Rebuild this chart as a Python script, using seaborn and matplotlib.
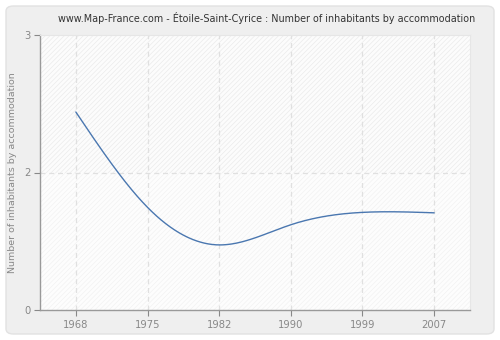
import numpy as np
import pandas as pd
import matplotlib
matplotlib.use("Agg")
import matplotlib.pyplot as plt
from matplotlib.patches import FancyBboxPatch, Rectangle
import seaborn as sns

years = ["1968", "1975", "1982", "1990", "1999", "2007"]
values = [2.16, 1.12, 0.71, 0.93, 1.065, 1.06]
ytick_pos = [0, 1.5, 3]
ytick_labels = ["0", "2", "3"]
title = "www.Map-France.com - Étoile-Saint-Cyrice : Number of inhabitants by accommodation"
ylabel = "Number of inhabitants by accommodation"

sns.set_theme(style="white")
plt.rcParams["font.family"] = ["DejaVu Sans"]
plt.rcParams["hatch.linewidth"] = 0.5


def natural_spline(x, y, n=400):
    x = np.asarray(x, float)
    y = np.asarray(y, float)
    k = len(x)
    h = np.diff(x)
    A = np.zeros((k, k))
    b = np.zeros(k)
    A[0, 0] = A[-1, -1] = 1
    for i in range(1, k - 1):
        A[i, i - 1] = h[i - 1]
        A[i, i] = 2 * (h[i - 1] + h[i])
        A[i, i + 1] = h[i]
        b[i] = 3 * ((y[i + 1] - y[i]) / h[i] - (y[i] - y[i - 1]) / h[i - 1])
    c = np.linalg.solve(A, b)
    xs = np.linspace(x[0], x[-1], n)
    ys = np.empty_like(xs)
    for j, xv in enumerate(xs):
        i = min(np.searchsorted(x, xv, side="right") - 1, k - 2)
        bi = (y[i + 1] - y[i]) / h[i] - h[i] * (2 * c[i] + c[i + 1]) / 3
        di = (c[i + 1] - c[i]) / (3 * h[i])
        t = xv - x[i]
        ys[j] = y[i] + bi * t + c[i] * t ** 2 + di * t ** 3
    return xs, ys


pos = np.arange(len(years))
xs, ys = natural_spline(pos, values)
curve = pd.DataFrame({"x": xs, "y": ys})

fig = plt.figure(figsize=(5, 3.4), dpi=100)
fig.patch.set_facecolor("white")
bg = FancyBboxPatch((6 / 500, 6 / 340), 488 / 500, 328 / 340,
                    boxstyle="round,pad=0,rounding_size=0.015",
                    transform=fig.transFigure, facecolor="#efefef",
                    edgecolor="#e2e2e2", linewidth=1, zorder=-5)
fig.add_artist(bg)

ax = fig.add_axes([40 / 500, 30 / 340, 430 / 500, 275 / 340])
ax.set_zorder(1)
ax.set_facecolor("#fbfbfb")
ax.set_xlim(-0.5, len(years) - 0.5)
ax.set_ylim(0, 3)

ax.add_patch(Rectangle((-0.5, 0), len(years), 1.5, facecolor="#fdfdfd",
                       edgecolor="#f2f2f2", hatch="/" * 7, linewidth=0, zorder=0))
ax.add_patch(Rectangle((-0.5, 1.5), len(years), 1.5, facecolor="#fcfcfc",
                       edgecolor="#ebebeb", hatch="/" * 7, linewidth=0, zorder=0))

for p in pos:
    ax.axvline(p, color="#e0e0e0", linestyle=(0, (4, 3)), linewidth=0.9, zorder=1)
ax.axhline(1.5, color="#e0e0e0", linestyle=(0, (4, 3)), linewidth=0.9, zorder=1)

sns.lineplot(data=curve, x="x", y="y", ax=ax, color="#4a77b0", linewidth=1.0, zorder=3)

ax.set_xticks(pos)
ax.set_xticklabels(years)
ax.set_yticks(ytick_pos)
ax.set_yticklabels(ytick_labels)
ax.tick_params(axis="both", colors="#888888", labelsize=7.2, length=4, width=0.8,
               direction="out", bottom=True, left=True, pad=3)
ax.set_xlabel("")
ax.set_ylabel(ylabel, color="#888888", fontsize=6.8, labelpad=5)

for s in ["top", "right"]:
    ax.spines[s].set_color("#e6e6e6")
    ax.spines[s].set_linewidth(0.8)
for s in ["left", "bottom"]:
    ax.spines[s].set_color("#999999")
    ax.spines[s].set_linewidth(1.0)

fig.text(267 / 500, 1 - 18 / 340, title, ha="center", va="center",
         fontsize=6.9, color="#333333")

fig.savefig("out.png", dpi=100)
